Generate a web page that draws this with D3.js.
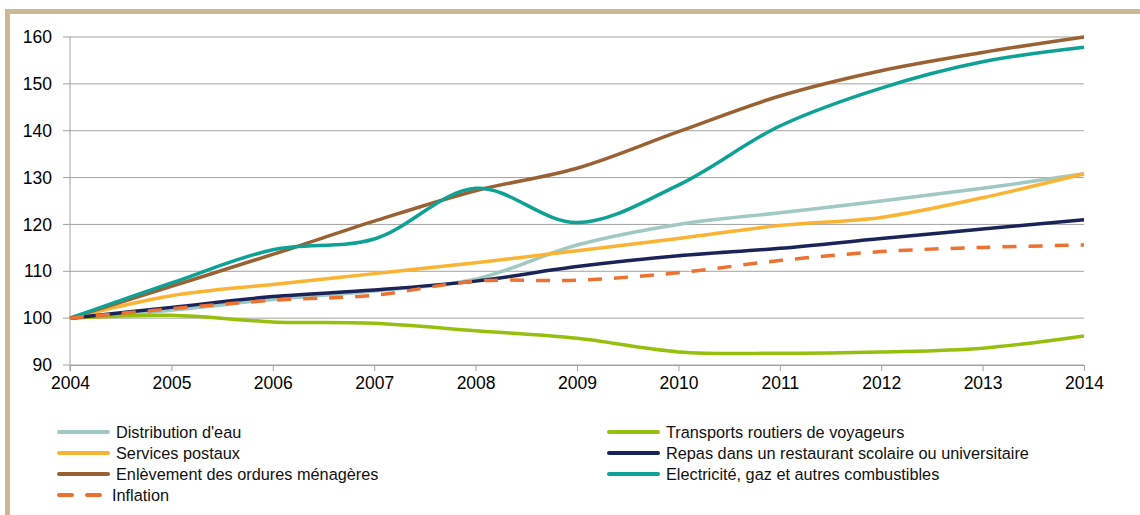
<!DOCTYPE html>
<html>
<head>
<meta charset="utf-8">
<script src="https://cdn.jsdelivr.net/npm/d3@7"></script>
<style>
  body { margin: 0; background: #fff; }
  svg { display: block; font-family: "Liberation Sans", Arial, sans-serif; }
</style>
</head>
<body>
<div id="graphWrapper"></div>
<script>
var years = [2004, 2005, 2006, 2007, 2008, 2009, 2010, 2011, 2012, 2013, 2014];
var yTicks = [90, 100, 110, 120, 130, 140, 150, 160];

var eau        = [100, 101.7, 104.0, 105.8, 108.3, 115.6, 120.0, 122.5, 125.0, 127.7, 130.8];
var transports = [100, 100.6, 99.2, 98.9, 97.3, 95.7, 92.8, 92.5, 92.8, 93.6, 96.2];
var postaux    = [100, 104.8, 107.2, 109.5, 111.8, 114.4, 117.0, 119.8, 121.5, 125.7, 130.8];
var repas      = [100, 102.3, 104.6, 106.0, 107.9, 111.0, 113.3, 114.9, 117.0, 119.0, 121.0];
var ordures    = [100, 106.8, 113.6, 120.7, 127.2, 132.0, 139.8, 147.4, 152.8, 156.7, 160.0];
var energie    = [100, 107.5, 114.6, 116.9, 127.7, 120.4, 128.4, 141.0, 149.1, 154.7, 157.8];
var inflation  = [100, 102.0, 103.8, 104.9, 107.9, 108.1, 109.7, 112.3, 114.2, 115.1, 115.6];

var seriesNames = [
    "Distribution d'eau",
    "Transports routiers de voyageurs",
    "Services postaux",
    "Repas dans un restaurant scolaire ou universitaire",
    "Enlèvement des ordures ménagères",
    "Electricité, gaz et autres combustibles",
    "Inflation"
];
var seriesValues = [eau, transports, postaux, repas, ordures, energie, inflation];
var seriesColors = ["#9fc9c2", "#97bf0d", "#fbb333", "#1b2458", "#9a6233", "#0ea196", "#ed7131"];

var w = 1140, h = 515;
var margin = { top: 37, left: 70, right: 56, bottom: 150 };
var width = w - margin.left - margin.right;
var height = h - margin.top - margin.bottom;

var svg = d3.select("#graphWrapper").append("svg")
    .attr("width", w)
    .attr("height", h);

// beige frame
svg.append("rect").attr("x", 5).attr("y", 9).attr("width", w - 5).attr("height", 5).attr("fill", "#cbb996");
svg.append("rect").attr("x", 5).attr("y", 9).attr("width", 5).attr("height", h - 9).attr("fill", "#cbb996");

var chart = svg.append("g")
    .attr("transform", "translate(" + margin.left + "," + margin.top + ")");

var x = d3.scaleLinear().domain([2004, 2014]).range([0, width]);
var y = d3.scaleLinear().domain([90, 160]).range([height, 0]);

// grid
chart.append("g").selectAll("line")
    .data(yTicks)
    .enter().append("line")
    .attr("x1", -7).attr("x2", width)
    .attr("y1", function(d){ return y(d); })
    .attr("y2", function(d){ return y(d); })
    .attr("stroke", "#a3a3a3")
    .attr("stroke-width", 1);

// y axis
var yAxis = d3.axisLeft(y).tickValues(yTicks).tickSize(0).tickPadding(18);
chart.append("g").call(yAxis)
    .call(function(g){ g.select(".domain").remove(); })
    .selectAll("text")
    .attr("fill", "#000")
    .style("font-size", "17.5px");

chart.append("line")
    .attr("x1", 0).attr("x2", 0)
    .attr("y1", 0).attr("y2", height + 6)
    .attr("stroke", "#a3a3a3");

// x axis
var xAxis = d3.axisBottom(x).tickValues(years).tickFormat(d3.format("d")).tickSize(6).tickPadding(6);
var gx = chart.append("g")
    .attr("transform", "translate(0," + height + ")")
    .call(xAxis);
gx.select(".domain").attr("stroke", "#a3a3a3");
gx.selectAll(".tick line").attr("stroke", "#a3a3a3");
gx.selectAll("text").attr("fill", "#000").style("font-size", "17.5px");

// lines
var line = d3.line()
    .x(function(d, i){ return x(years[i]); })
    .y(function(d){ return y(d); })
    .curve(d3.curveCatmullRom.alpha(0.5));

chart.selectAll(".trendline")
    .data(seriesValues)
    .enter()
    .append("path")
    .classed("trendline", true)
    .attr("d", function(d){ return line(d); })
    .attr("fill", "none")
    .attr("stroke", function(d, i){ return seriesColors[i]; })
    .attr("stroke-width", 3.5)
    .attr("stroke-dasharray", function(d, i){ return seriesNames[i] === "Inflation" ? "14,12" : null; });

// legend
var legendPos = [
    { x: 59, y: 432 }, { x: 609, y: 432 },
    { x: 59, y: 453 }, { x: 609, y: 453 },
    { x: 59, y: 474 }, { x: 609, y: 474 },
    { x: 59, y: 495 }
];
var legend = svg.append("g").selectAll("g")
    .data(seriesNames)
    .enter().append("g")
    .attr("transform", function(d, i){ return "translate(" + legendPos[i].x + "," + legendPos[i].y + ")"; });

legend.append("line")
    .attr("x1", 0).attr("x2", function(d){ return d === "Inflation" ? 43 : 49; })
    .attr("y1", 0).attr("y2", 0)
    .attr("stroke", function(d, i){ return seriesColors[i]; })
    .attr("stroke-width", 4)
    .attr("stroke-linecap", "round")
    .attr("stroke-dasharray", function(d){ return d === "Inflation" ? "13,15" : null; });

legend.append("text")
    .attr("x", function(d){ return d === "Inflation" ? 53 : 57; })
    .attr("y", 0)
    .attr("dy", "0.36em")
    .style("font-size", "16.3px")
    .attr("fill", "#111")
    .text(function(d){ return d; });
</script>
</body>
</html>
